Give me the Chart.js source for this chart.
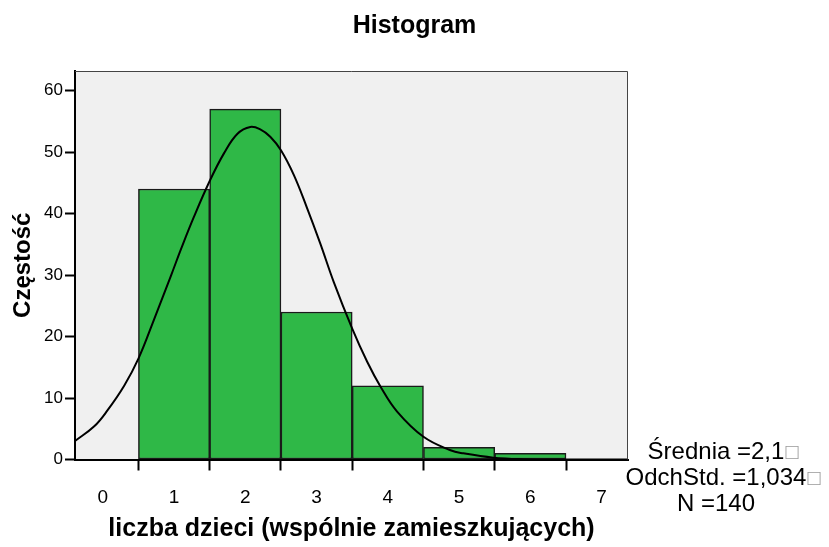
<!DOCTYPE html>
<html lang="pl">
<head>
<meta charset="UTF-8">
<title>Histogram</title>
<script src="https://cdn.jsdelivr.net/npm/chart.js"></script>
<style>
    html, body { margin: 0; padding: 0; background: #fff; }
    #wrap { width: 829px; height: 547px; position: relative; }
</style>
</head>
<body>
<div id="wrap"><canvas id="histChart" width="829" height="547"></canvas></div>
<script>
// histogram bins (bin centre -> frequency)
const binCenters = [1, 2, 3, 4, 5, 6];
const binCounts = [44, 57, 24, 12, 2, 1];

// normal curve
const curveX = [-0.39, -0.12, 0.06, 0.3, 0.5, 0.72, 0.96, 1.1, 1.28, 1.5, 1.7, 1.89, 2.07, 2.21, 2.35, 2.5, 2.68, 2.86, 3.05, 3.24, 3.5, 3.71, 3.9, 4.13, 4.5, 4.88, 5.06, 5.48, 5.9, 6.4, 7.37];
const curveY = [3.0, 5.4, 7.9, 12.0, 16.4, 22.8, 30.0, 34.3, 39.5, 45.3, 49.8, 53.0, 54.1, 53.7, 52.5, 50.3, 46.3, 41.1, 35.2, 28.9, 21.3, 15.9, 11.8, 7.8, 3.7, 1.5, 1.0, 0.3, 0.05, 0, 0];

const xTicks = [0, 1, 2, 3, 4, 5, 6, 7];
const yTicks = [0, 10, 20, 30, 40, 50, 60];

const statLines = ['Średnia =2,1', 'OdchStd. =1,034', 'N =140'];
const statBoxes = [true, true, false];

const FONT = "'Liberation Sans', Arial, sans-serif";

// grey plot background, thin frame, statistics text
const plotFrame = {
    id: 'plotFrame',
    beforeDraw(chart) {
        const a = chart.chartArea, c = chart.ctx;
        c.save();
        c.fillStyle = '#f0f0f0';
        c.fillRect(a.left, a.top, a.right - a.left, a.bottom - a.top);
        c.restore();
    },
    afterDraw(chart) {
        const a = chart.chartArea, c = chart.ctx;
        c.save();
        c.strokeStyle = '#444';
        c.lineWidth = 1;
        c.beginPath();
        c.moveTo(a.left, a.top + 0.5);
        c.lineTo(a.right - 0.5, a.top + 0.5);
        c.lineTo(a.right - 0.5, a.bottom);
        c.stroke();

        c.textBaseline = 'alphabetic';
        statLines.forEach((t, i) => {
            const y = 459 + i * 26;
            c.font = '24px ' + FONT;
            c.fillStyle = '#000';
            c.textAlign = 'center';
            c.fillText(t, 716, y);
            if (statBoxes[i]) {
                const w = c.measureText(t).width;
                c.font = '22px ' + FONT;
                c.fillStyle = '#999';
                c.textAlign = 'left';
                c.fillText('\u25A1', 716 + w / 2 + 1, y);
            }
        });
        c.restore();
    }
};

const ctx = document.getElementById('histChart').getContext('2d');
const chart = new Chart(ctx, {
    type: 'bar',
    data: {
        datasets: [{
            type: 'line',
            data: curveX.map((x, i) => ({x: x, y: curveY[i]})),
            borderColor: '#000',
            borderWidth: 2,
            pointRadius: 0,
            tension: 0.4,
            fill: false,
            order: 0
        }, {
            type: 'bar',
            data: binCenters.map((x, i) => ({x: x, y: binCounts[i]})),
            backgroundColor: '#2fb847',
            borderColor: '#1a1a1a',
            borderWidth: 1.5,
            borderSkipped: false,
            barPercentage: 1,
            categoryPercentage: 1,
            order: 1
        }]
    },
    options: {
        responsive: false,
        animation: false,
        events: [],
        layout: { padding: 0 },
        plugins: {
            legend: { display: false },
            tooltip: { enabled: false },
            title: {
                display: true,
                text: 'Histogram',
                color: '#000',
                font: { family: FONT, size: 25, weight: 'bold', lineHeight: 1.2 },
                padding: { top: 11, bottom: 30 }
            }
        },
        scales: {
            x: {
                type: 'linear',
                offset: false,
                min: -0.39,
                max: 7.37,
                afterBuildTicks(scale) { scale.ticks = xTicks.map(v => ({value: v})); },
                afterFit(scale) { scale.height = 87.5; },
                grid: { drawOnChartArea: false, tickLength: 11, tickColor: '#000', tickWidth: 2 },
                border: { color: '#000', width: 2 },
                ticks: { color: '#000', padding: 16, font: { family: FONT, size: 19 } },
                title: {
                    display: true,
                    text: 'liczba dzieci (wspólnie zamieszkujących)',
                    color: '#000',
                    font: { family: FONT, size: 25, weight: 'bold', lineHeight: 1.2 },
                    padding: { top: 0, bottom: 2.5 }
                }
            },
            y: {
                min: 0,
                max: 63.2,
                afterBuildTicks(scale) { scale.ticks = yTicks.map(v => ({value: v})); },
                afterFit(scale) { scale.width = 75; },
                grid: { drawOnChartArea: false, tickLength: 10, tickColor: '#000', tickWidth: 2 },
                border: { color: '#000', width: 2 },
                ticks: { color: '#000', padding: 2, font: { family: FONT, size: 17 } },
                title: {
                    display: true,
                    text: 'Częstość',
                    color: '#000',
                    font: { family: FONT, size: 24, weight: 'bold', lineHeight: 1.2 },
                    padding: { top: 9, bottom: 0 }
                }
            },
            // empty right-hand axis, only reserves the space for the statistics
            side: {
                type: 'linear',
                position: 'right',
                afterFit(scale) { scale.width = 201; },
                grid: { display: false },
                border: { display: false },
                ticks: { display: false }
            }
        }
    },
    plugins: [plotFrame]
});
</script>
</body>
</html>
